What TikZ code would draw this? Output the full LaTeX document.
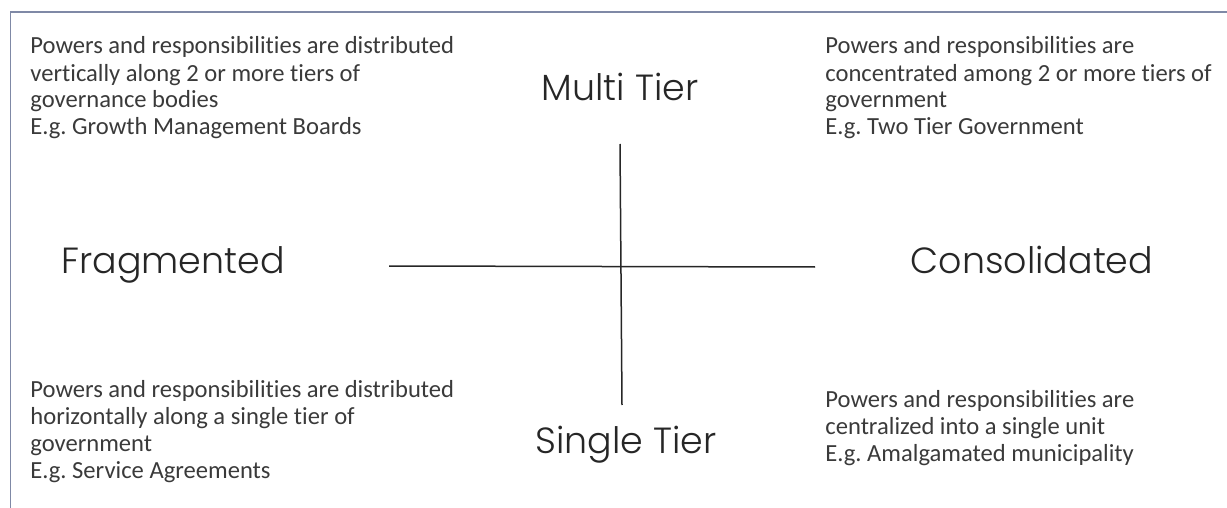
\documentclass[tikz,border=0pt]{standalone}
\usepackage{fontspec}
\setmainfont[Ligatures=NoCommon]{Carlito}
\newfontfamily\axisfont{Poppins Light}
\usetikzlibrary{positioning}
\frenchspacing
\definecolor{framecol}{HTML}{7F89A6}
\definecolor{notecol}{HTML}{3A3A3A}
\definecolor{axiscol}{HTML}{262626}
\tikzset{
  % base anchor of a multi-line node sits on its last line
  note/.style={anchor=base west, align=left, inner sep=0pt, text=notecol,
    font=\fontsize{12.3pt}{13.5pt}\selectfont},
  axislabel/.style={anchor=base, inner sep=0pt, text=axiscol,
    font=\fontsize{18.2pt}{22pt}\axisfont},
  axisline/.style={draw=axiscol, line width=0.75pt}
}

\begin{document}
\begin{tikzpicture}[x=0.5pt, y=-0.5pt]
                \useasboundingbox (0,0) rectangle (1227,508);
                \draw[framecol, line width=0.75pt] (10.5,508) -- (10.5,12) -- (1227,12);
                % axes
                \coordinate (west) at (389,266);
                \coordinate (east) at (815,267);
                \coordinate (north) at (620,144);
                \coordinate (south) at (622,405);
                \draw[axisline] (west) -- (east);
                \draw[axisline] (north) -- (south);
                \node[axislabel] (multi) at (620,101){Multi Tier};
                \node[axislabel] (single) at (626,453){Single Tier};
                \node[axislabel] (frag) at (173,273){Fragmented};
                \node[axislabel] (cons) at (1032,273){Consolidated};
                % quadrant notes
                \node[note] (nw) at (30,135){Powers and responsibilities are distributed\\vertically along 2 or more tiers of\\governance bodies\\E.g. Growth Management Boards};
                \node[note] (ne) at (825,135){Powers and responsibilities are\\concentrated among 2 or more tiers of\\government\\E.g. Two Tier Government};
                \node[note] (sw) at (30,478){Powers and responsibilities are distributed\\horizontally along a single tier of\\government\\E.g. Service Agreements};
                \node[note] (se) at (825,461){Powers and responsibilities are\\centralized into a single unit\\E.g. Amalgamated municipality};
            \end{tikzpicture}
\end{document}
